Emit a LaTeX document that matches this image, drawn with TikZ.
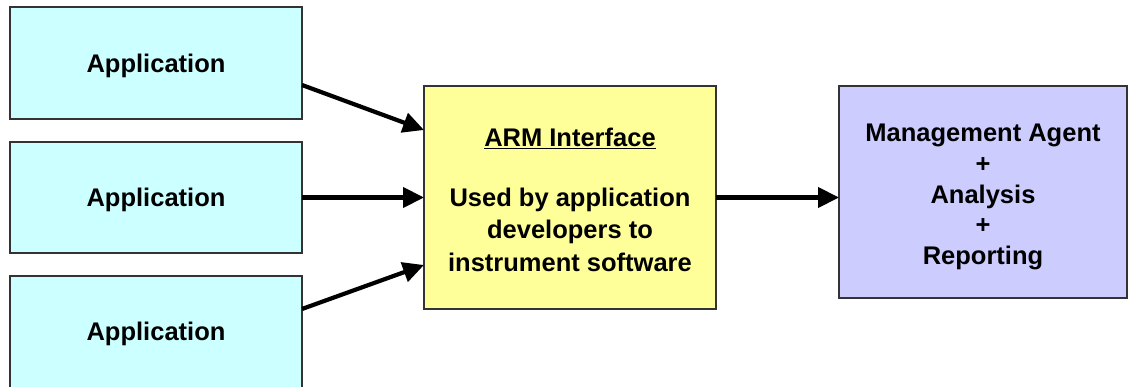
\documentclass[tikz,border=0pt]{standalone}
\usepackage{fontspec}
\setmainfont{Liberation Sans}
\usetikzlibrary{arrows.meta}
\definecolor{appfill}{HTML}{CCFFFF}
\definecolor{armfill}{HTML}{FFFF99}
\definecolor{mgmtfill}{HTML}{CCCCFF}
\definecolor{edge}{HTML}{333333}
\begin{document}
\begin{tikzpicture}[x=1pt,y=1pt,
  box/.style={draw=edge, line width=1.2pt, inner sep=0pt, outer sep=0pt},
  lbl/.style={align=center, inner sep=0pt, font=\fontsize{25.5}{31}\selectfont\bfseries},
  arr/.style={line width=4.2pt, -{Triangle[length=21pt,width=20pt]}}]
\useasboundingbox (0,0) rectangle (1128,386);
\node[box, fill=appfill, minimum width=292pt, minimum height=112pt] (a1) at (156,323) {};
\node[box, fill=appfill, minimum width=292pt, minimum height=111pt] (a2) at (156,188.5) {};
\node[box, fill=appfill, minimum width=292pt, minimum height=112pt] (a3) at (156,54) {};
\node[lbl] (t1) at (156,320) {Application};
\node[lbl] (t2) at (156,186) {Application};
\node[lbl] (t3) at (156,52) {Application};
\node[box, fill=armfill, minimum width=292pt, minimum height=223pt] (arm) at (570,188.5) {};
\node[lbl, font=\fontsize{25.5}{32.5}\selectfont\bfseries, anchor=north] (armt) at (570,258)
  {\underline{ARM Interface}\\[27pt]Used by application\\developers to\\instrument software};
\node[box, fill=mgmtfill, minimum width=288pt, minimum height=212pt] (mg) at (983,194) {};
\node[lbl, font=\fontsize{25.5}{30.8}\selectfont\bfseries] (mgt) at (983,189)
  {Management Agent\\+\\Analysis\\+\\Reporting};
\draw[arr] ([yshift=-22pt]a1.east) -- ([yshift=67.5pt]arm.west);
\draw[arr] (a2.east) -- (a2.east -| arm.west);
\draw[arr] ([yshift=23pt]a3.east) -- ([yshift=-67.5pt]arm.west);
\draw[arr] (arm.east |- a2.east) -- (a2.east -| mg.west);
\end{tikzpicture}
\end{document}
